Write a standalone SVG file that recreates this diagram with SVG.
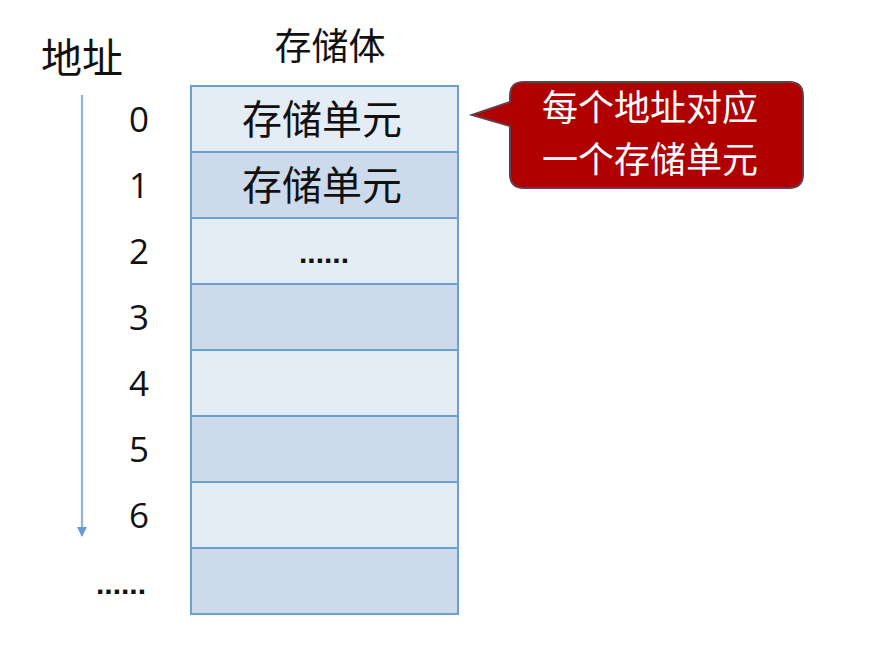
<svg xmlns="http://www.w3.org/2000/svg" width="877" height="653" viewBox="0 0 877 653">
<defs>
<style>
.cjk{font-family:"Noto Sans CJK SC","Noto Sans",sans-serif;fill:#111;text-anchor:middle}
.num{font-family:"Open Sans","Liberation Sans",sans-serif;font-size:35px;fill:#111;text-anchor:middle}
.dots{font-family:"Liberation Sans",sans-serif;font-size:30px;font-weight:bold;fill:#111;text-anchor:middle}
.light{fill:#e4ecf6;stroke:#6c9fd3;stroke-width:2}
.dark{fill:#cddaeb;stroke:#6c9fd3;stroke-width:2}
.cell{font-size:40px}
.call{font-family:"Noto Sans CJK SC",sans-serif;font-size:36px;fill:#fff;text-anchor:middle}
</style>
<marker id="ah" viewBox="0 0 10 10" refX="9" refY="5" markerWidth="4.5" markerHeight="4.5" orient="auto" markerUnits="strokeWidth">
<path d="M0,0 L10,5 L0,10 z" fill="#6a9bd0"/>
</marker>
</defs>
<rect width="877" height="653" fill="#fff"/>
<g id="connectors">
<line x1="82" y1="95" x2="82" y2="536" stroke="#8fb3dc" stroke-width="2.2" marker-end="url(#ah)"/>
</g>
<g id="labels">
<text class="cjk" x="82" y="73" font-size="41">地址</text>
<text class="cjk" x="330" y="60" font-size="37">存储体</text>
</g>
<g id="addresses">
<text class="num" x="139" y="132">0</text>
<text class="num" x="139" y="198">1</text>
<text class="num" x="139" y="264">2</text>
<text class="num" x="139" y="330">3</text>
<text class="num" x="139" y="396">4</text>
<text class="num" x="139" y="462">5</text>
<text class="num" x="139" y="528">6</text>
<text class="dots" x="121" y="594">......</text>
</g>
<g id="memory">
<g id="row0"><rect class="light" x="191" y="86" width="267" height="66"/><text class="cjk cell" x="322" y="134">存储单元</text></g>
<g id="row1"><rect class="dark" x="191" y="152" width="267" height="66"/><text class="cjk cell" x="322" y="200">存储单元</text></g>
<g id="row2"><rect class="light" x="191" y="218" width="267" height="66"/><text class="dots" x="324" y="263">......</text></g>
<g id="row3"><rect class="dark" x="191" y="284" width="267" height="66"/></g>
<g id="row4"><rect class="light" x="191" y="350" width="267" height="66"/></g>
<g id="row5"><rect class="dark" x="191" y="416" width="267" height="66"/></g>
<g id="row6"><rect class="light" x="191" y="482" width="267" height="66"/></g>
<g id="row7"><rect class="dark" x="191" y="548" width="267" height="66"/></g>
</g>
<g id="callout">
<path d="M524,82 H789 Q803,82 803,96 V174 Q803,188 789,188 H524 Q510,188 510,174 V126 L472,115 L510,102 V96 Q510,82 524,82 Z" fill="#b00000" stroke="#6b3a48" stroke-width="2"/>
<text class="call" x="650" y="121">每个地址对应</text>
<text class="call" x="650" y="173">一个存储单元</text>
</g>
</svg>
